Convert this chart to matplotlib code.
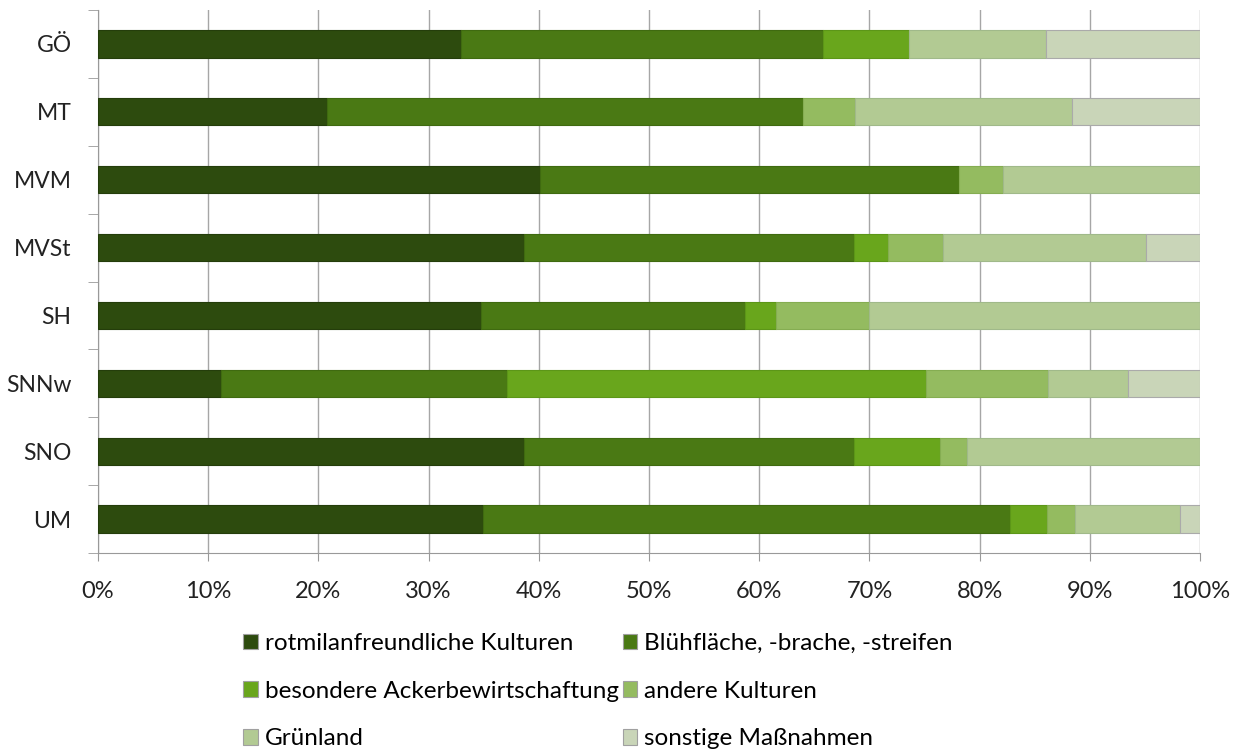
import numpy as np
import matplotlib.pyplot as plt
from matplotlib.patches import Patch

plt.rcParams['font.family'] = ['Lato', 'DejaVu Sans']

# regions, top to bottom
regions = ["GÖ", "MT", "MVM", "MVSt", "SH", "SNNw", "SNO", "UM"]

# shares in percent per category
rotmilan   = [32.9, 20.8, 40.1, 38.7, 34.8, 11.2, 38.7, 34.9]
bluehflaeche = [32.9, 43.2, 38.0, 29.9, 23.9, 25.9, 29.9, 47.9]
besondere  = [7.8, 0.0, 0.0, 3.1, 2.8, 38.0, 7.8, 3.3]
andere     = [0.0, 4.7, 4.0, 5.0, 8.5, 11.1, 2.5, 2.6]
gruenland  = [12.4, 19.7, 17.9, 18.4, 30.0, 7.3, 21.1, 9.5]
sonstige   = [14.0, 11.6, 0.0, 4.9, 0.0, 6.5, 0.0, 1.8]

series = [rotmilan, bluehflaeche, besondere, andere, gruenland, sonstige]
labels = ["rotmilanfreundliche Kulturen", "Blühfläche, -brache, -streifen",
          "besondere Ackerbewirtschaftung", "andere Kulturen",
          "Grünland", "sonstige Maßnahmen"]
colors = ["#2d4b0e", "#4a7914", "#69a61c", "#94bb60", "#b2ca93", "#c9d5b8"]
edges = ["#243d0b", "#3f6a10", "#5c9618", "#85ad52", "#a0b98a", "#aaaaaa"]

fig = plt.figure(figsize=(12.42, 7.53), dpi=100)
ax = fig.add_axes([98/1242, 1 - 553/753, 1102/1242, 543/753])

y = np.arange(len(regions))
left = np.zeros(len(regions))
for vals, c, ec, lab in zip(series, colors, edges, labels):
    vals = np.array(vals)
    ax.barh(y, vals, left=left, height=0.4, color=c, edgecolor=ec,
            linewidth=0.8, label=lab, zorder=3)
    left += vals

ax.set_xlim(0, 100)
ax.set_ylim(len(regions) - 0.5, -0.5)
ax.set_xticks(np.arange(0, 101, 10))
ax.set_xticklabels([f"{v}%" for v in range(0, 101, 10)], fontsize=17, color="#222222")
ax.set_yticks(y)
ax.set_yticklabels(regions, fontsize=16.5, color="#222222")
ax.tick_params(axis='y', length=0, pad=19)
ax.set_yticks(np.arange(-0.5, len(regions) + 0.5, 1), minor=True)
ax.tick_params(axis='y', which='minor', length=7, color="#999999", direction='out')
ax.tick_params(axis='x', length=6, color="#999999", direction='out', pad=14)
ax.grid(axis='x', color="#a6a6a6", linewidth=1, zorder=0)
for s in ['top', 'right']:
    ax.spines[s].set_visible(False)
for s in ['left', 'bottom']:
    ax.spines[s].set_color("#999999")

# legend in row-major order like the original (2 columns)
handles = [Patch(facecolor=c, edgecolor="#a0a0a0", linewidth=0.8) for c in colors]
order = [0, 2, 4, 1, 3, 5]
fig.legend([handles[i] for i in order], [labels[i] for i in order],
           ncol=2, loc='upper left', bbox_to_anchor=(243/1242, 1 - 633/753),
           frameon=False, fontsize=17.5, handlelength=0.6, handleheight=0.6,
           handletextpad=0.3, columnspacing=0.15, labelspacing=1.1,
           borderaxespad=0, borderpad=0)

fig.savefig("out.png", dpi=100)
